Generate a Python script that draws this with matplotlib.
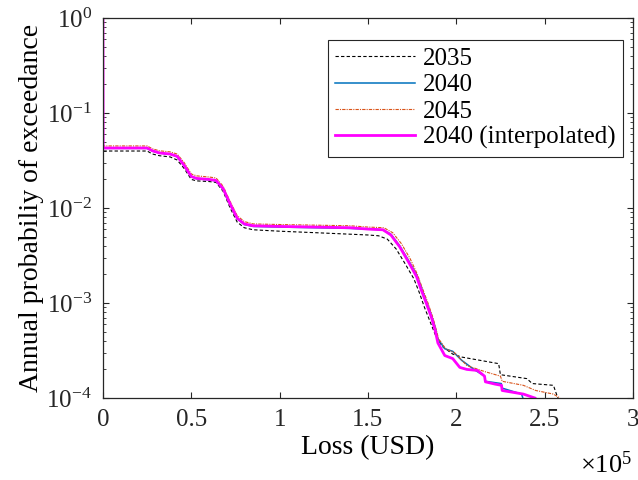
import numpy as np
import matplotlib
matplotlib.use('Agg')
import matplotlib.pyplot as plt
from matplotlib.ticker import LogLocator, FixedLocator, NullFormatter, FuncFormatter

plt.rcParams['font.family'] = ['Liberation Serif', 'DejaVu Serif']
plt.rcParams['mathtext.fontset'] = 'custom'
plt.rcParams['mathtext.rm'] = 'Liberation Serif'
plt.rcParams['mathtext.it'] = 'Liberation Serif:italic'

# Loss in units of 1e5 USD, annual probability of exceedance
loss_2035 = [0, 0.001, 0.25, 0.28, 0.32, 0.38, 0.42, 0.46, 0.50, 0.53, 0.60, 0.64, 0.68, 0.72,
             0.76, 0.80, 0.85, 1.0, 1.2, 1.4, 1.5, 1.56, 1.61, 1.66, 1.71, 1.76, 1.79, 1.82,
             1.85, 1.88, 1.92, 1.98, 2.03, 2.24, 2.25, 2.40, 2.43, 2.55, 2.575]
prob_2035 = [1, 0.0398, 0.0398, 0.037, 0.0355, 0.0345, 0.032, 0.026, 0.0200, 0.0193, 0.0190,
             0.0186, 0.015, 0.0100, 0.0071, 0.0062, 0.0059, 0.0057, 0.0055, 0.0053, 0.0052,
             0.0051, 0.0047, 0.0037, 0.0026, 0.0018, 0.0013, 0.0009, 0.00065, 0.00047,
             0.00035, 0.00029, 0.00027, 0.00023, 0.000176, 0.00016, 0.000142, 0.000136, 0.0001]

loss_2040 = [0, 0.001, 0.25, 0.28, 0.32, 0.38, 0.42, 0.46, 0.50, 0.53, 0.60, 0.64, 0.68, 0.72,
             0.76, 0.80, 0.85, 1.0, 1.2, 1.4, 1.5, 1.585, 1.63, 1.68, 1.73, 1.775, 1.80, 1.83,
             1.86, 1.88, 1.896, 1.935, 1.98, 2.03, 2.10, 2.16, 2.165, 2.255, 2.26, 2.37, 2.377]
prob_2040 = [1, 0.0425, 0.0425, 0.0398, 0.0378, 0.0368, 0.0348, 0.028, 0.0213, 0.0203,
             0.0198, 0.0193, 0.0158, 0.0109, 0.0077, 0.0067, 0.0064, 0.0063, 0.0062, 0.0061,
             0.0060, 0.0059, 0.0053, 0.0040, 0.0028, 0.0020, 0.0015, 0.00105, 0.00074,
             0.00056, 0.00042, 0.00033, 0.00031, 0.00025, 0.0002, 0.00017, 0.00015,
             0.000142, 0.000127, 0.00011, 0.0001]

loss_2045 = [0, 0.001, 0.25, 0.28, 0.32, 0.38, 0.42, 0.46, 0.50, 0.53, 0.60, 0.64, 0.68, 0.72,
             0.76, 0.80, 0.85, 1.0, 1.2, 1.4, 1.5, 1.59, 1.64, 1.69, 1.74, 1.78, 1.81, 1.84,
             1.87, 1.90, 1.94, 1.99, 2.06, 2.16, 2.25, 2.26, 2.38, 2.45, 2.55, 2.587]
prob_2045 = [1, 0.045, 0.045, 0.042, 0.040, 0.039, 0.037, 0.030, 0.0228, 0.0218, 0.0212,
             0.0207, 0.017, 0.0117, 0.0083, 0.0072, 0.0068, 0.0067, 0.0066, 0.0065, 0.0063,
             0.0062, 0.0055, 0.0042, 0.0029, 0.0020, 0.0014, 0.001, 0.00068, 0.00042,
             0.00033, 0.0003, 0.00022, 0.00019, 0.00017, 0.00015, 0.000136, 0.00012,
             0.00011, 0.0001]

loss_2040i = [0, 0.001, 0.25, 0.28, 0.32, 0.38, 0.42, 0.46, 0.50, 0.53, 0.60, 0.64, 0.68, 0.72,
              0.76, 0.80, 0.85, 1.0, 1.2, 1.4, 1.5, 1.585, 1.63, 1.68, 1.73, 1.775, 1.80, 1.83,
              1.86, 1.88, 1.896, 1.935, 1.98, 2.02, 2.06, 2.12, 2.16, 2.165, 2.22, 2.256, 2.26,
              2.38, 2.445]
prob_2040i = [1, 0.0428, 0.0428, 0.040, 0.038, 0.037, 0.035, 0.028, 0.0215, 0.0205, 0.020,
              0.0195, 0.016, 0.011, 0.0078, 0.0068, 0.0065, 0.0064, 0.0063, 0.0062, 0.0060,
              0.0059, 0.0052, 0.0039, 0.0027, 0.0019, 0.0014, 0.001, 0.0007, 0.00052,
              0.00038, 0.00028, 0.00026, 0.00021, 0.0002, 0.000195, 0.00017, 0.000148,
              0.00014, 0.000136, 0.00012, 0.00011, 0.0001]

x_ticks = [0, 0.5, 1, 1.5, 2, 2.5, 3]
x_ticklabels = ['0', '0.5', '1', '1.5', '2', '2.5', '3']

fig = plt.figure(figsize=(6.38, 4.8), dpi=100)
ax = fig.add_axes([0.1614, 0.1708, 0.8306, 0.7917])

ax.plot(loss_2035, prob_2035, color='black', linestyle=(0, (3, 2)), lw=0.8, label='2035')
ax.plot(loss_2040, prob_2040, color='#0072BD', lw=1.1, label='2040')
ax.plot(loss_2045, prob_2045, color='#D95319', linestyle=(0, (3, 1, 1, 1)), lw=0.8, label='2045')
ax.plot(loss_2040i, prob_2040i, color='#FF00FF', lw=2.0, label='2040 (interpolated)')

ax.set_yscale('log')
ax.set_xlim(0, 3)
ax.set_ylim(1e-4, 1)
ax.xaxis.set_major_locator(FixedLocator(x_ticks))
ax.set_xticklabels(x_ticklabels)
ax.yaxis.set_major_locator(LogLocator(base=10, numticks=10))
ax.yaxis.set_major_formatter(FuncFormatter(lambda v, pos: r'$\mathregular{10^{%d}}$' % round(np.log10(v))))
ax.yaxis.set_minor_locator(LogLocator(base=10, subs=np.arange(2, 10), numticks=10))
ax.yaxis.set_minor_formatter(NullFormatter())

ax.tick_params(which='both', direction='in', top=True, right=True, labelsize=18, colors='#262626')
ax.tick_params(which='major', length=4, width=0.8)
ax.tick_params(axis='x', which='major', pad=8)
ax.tick_params(axis='y', which='major', pad=8)
ax.tick_params(which='minor', length=2, width=0.6)
for s in ax.spines.values():
    s.set_color('#262626')
    s.set_linewidth(0.9)

ax.set_xlabel('Loss (USD)', fontsize=20, labelpad=3)
ax.set_ylabel('Annual probabiliy of exceedance', fontsize=20, labelpad=2)
ax.text(0.998, -0.14, r'$\mathregular{\times 10^5}$', transform=ax.transAxes,
        ha='right', va='top', fontsize=19)

leg = ax.legend(loc='upper right', bbox_to_anchor=(0.981, 0.942), borderaxespad=0,
                fancybox=False, edgecolor='#262626', framealpha=1, fontsize=18,
                handlelength=3.2, handletextpad=0.3, labelspacing=0.15, borderpad=0.3)
leg.get_frame().set_linewidth(0.8)

fig.savefig('out.png', dpi=100)
